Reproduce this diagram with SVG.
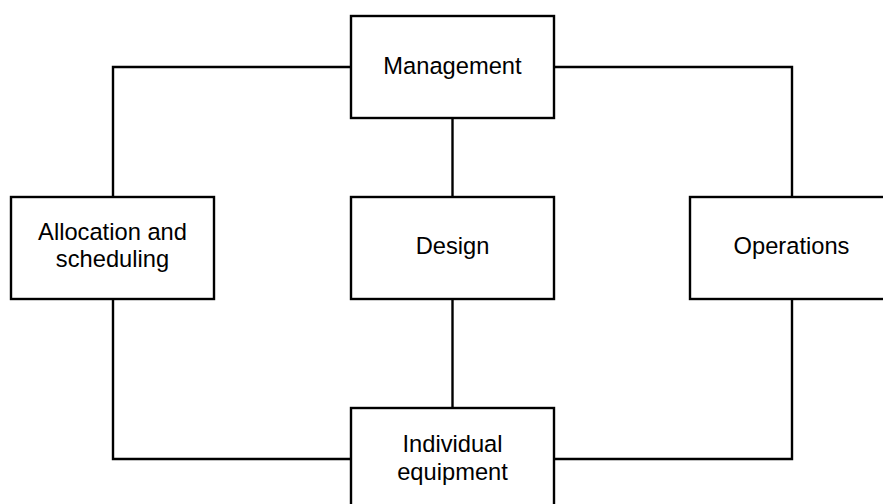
<svg xmlns="http://www.w3.org/2000/svg" width="883" height="504" viewBox="0 0 883 504">
  <style>
    .box { fill: #ffffff; stroke: #000000; stroke-width: 2.4; }
    .wire { fill: none; stroke: #000000; stroke-width: 2.4; }
    .label { font-family: "Liberation Sans", Arial, sans-serif; font-size: 23.7px; fill: #000000; text-anchor: middle; }
  </style>
  <rect width="883" height="504" fill="#ffffff"/>
  <g id="connectors">
    <path class="wire" d="M351 67 H113 V197"/>
    <path class="wire" d="M554 67 H792 V197"/>
    <path class="wire" d="M452.5 118 V197"/>
    <path class="wire" d="M452.5 299 V408"/>
    <path class="wire" d="M113 299 V459 H351"/>
    <path class="wire" d="M792 299 V459 H554"/>
  </g>
  <g id="management">
    <rect class="box" x="351" y="16" width="203" height="102"/>
    <text class="label" x="452.5" y="74">Management</text>
  </g>
  <g id="allocation">
    <rect class="box" x="11" y="197" width="203" height="102"/>
    <text class="label" x="112.5" y="240">Allocation and</text>
    <text class="label" x="112.5" y="267">scheduling</text>
  </g>
  <g id="design">
    <rect class="box" x="351" y="197" width="203" height="102"/>
    <text class="label" x="452.5" y="254">Design</text>
  </g>
  <g id="operations">
    <rect class="box" x="690" y="197" width="203" height="102"/>
    <text class="label" x="791.5" y="254">Operations</text>
  </g>
  <g id="individual-equipment">
    <rect class="box" x="351" y="408" width="203" height="102"/>
    <text class="label" x="452.5" y="452">Individual</text>
    <text class="label" x="452.5" y="480">equipment</text>
  </g>
</svg>
